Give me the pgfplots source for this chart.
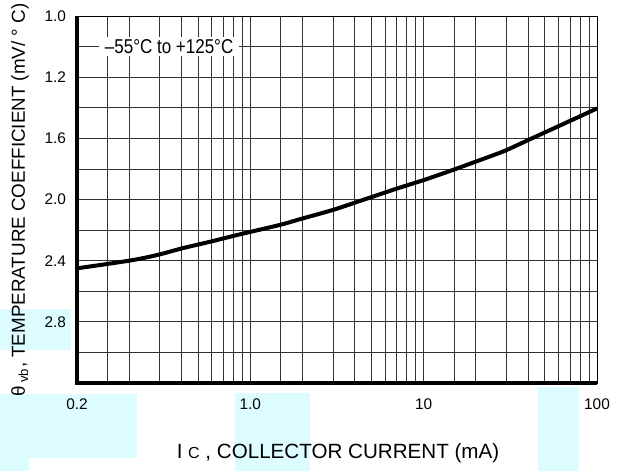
\documentclass[border=0pt]{standalone}
\usepackage{pgfplots}
\pgfplotsset{compat=1.18}
\usepackage{fontspec}
\setmainfont{Liberation Sans}
\definecolor{bgcyan}{RGB}{221,252,255}
\begin{document}
\begin{tikzpicture}
\path[use as bounding box] (0pt,0pt) rectangle (309.5pt,-235.5pt);
% pale cyan patches of the scanned page
\fill[bgcyan] (0pt,-154.5pt) rectangle (35.5pt,-175pt);
\fill[bgcyan] (0pt,-197pt) rectangle (68.5pt,-229pt);
\fill[bgcyan] (0pt,-229pt) rectangle (14.5pt,-235.5pt);
\fill[bgcyan] (117.5pt,-196.5pt) rectangle (155pt,-235.5pt);
\fill[bgcyan] (269pt,-193.5pt) rectangle (289.5pt,-235.5pt);
\begin{axis}[
    at={(38.5pt,-8pt)}, anchor=north west,
    scale only axis, width=260pt, height=183.5pt,
    xmode=log, xmin=0.1, xmax=100,
    ymin=0.8, ymax=3.2, y dir=reverse,
    xtick={0.1,1,10,100}, xticklabels={0.2,1.0,10,100},
    minor xtick={0.15,0.2,0.3,0.4,0.5,0.6,0.7,0.8,0.9,1.5,2,3,4,5,6,7,8,9,15,20,30,40,50,60,70,80,90},
    ytick={0.8,1.2,1.6,2.0,2.4,2.8}, yticklabels={1.0,1.2,1.6,2.0,2.4,2.8},
    minor ytick={1.0,1.4,1.8,2.2,2.6,3.0},
    grid=both, grid style={black!80, line width=0.4pt},
    major tick length=0pt, minor tick length=0pt,
    axis line style={line width=0.5pt},
    tick label style={font=\fontsize{7.7}{9}\selectfont},
    xticklabel style={yshift=-4.5pt},
    yticklabel style={xshift=-2pt},
    clip=false]
\addplot[line width=2pt, smooth] coordinates {
    (0.1,2.450) (0.2,2.400) (0.29,2.363) (0.405,2.319) (0.587,2.276)
    (0.84,2.232) (1.47,2.167) (1.945,2.128) (2.98,2.069) (4.15,2.015)
    (7.07,1.927) (10,1.873) (14.3,1.812) (19.9,1.753) (29,1.684)
    (40.3,1.610) (62,1.513) (83,1.447) (100,1.404)
};
\draw[line width=1.6pt] (axis description cs:0,1) -- (axis description cs:0,0) -- (axis description cs:1,0);
\node[fill=white, inner sep=0pt, minimum width=70pt, minimum height=9.5pt]
    at (axis cs:0.34,1.0) {\scalebox{0.85}[1]{\fontsize{10}{12}\selectfont \textendash55°C to +125°C}};
\end{axis}
\node[rotate=90, font=\fontsize{9.4}{11}\selectfont] at (10pt,-100pt)
    {θ\,\textsubscript{vb}, TEMPERATURE COEFFICIENT (mV/ ° C)};
\node[font=\fontsize{10.3}{12}\selectfont] at (169pt,-226.5pt)
    {I {\fontsize{8}{10}\selectfont C} , COLLECTOR CURRENT (mA)};
\end{tikzpicture}
\end{document}
